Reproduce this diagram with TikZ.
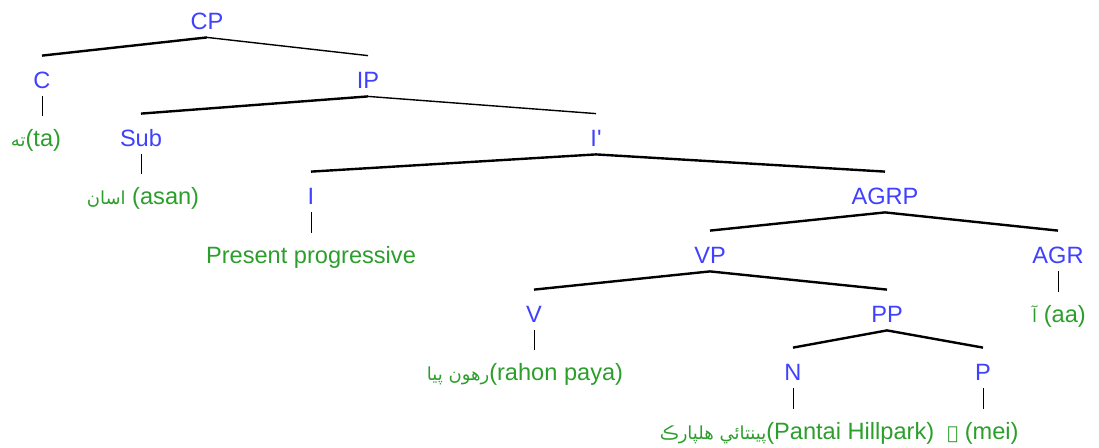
\documentclass[tikz,border=0pt]{standalone}
\usepackage{fontspec}
\setmainfont{Liberation Sans}
\newfontfamily\arabicfont[Script=Arabic]{DejaVu Sans}
\TeXXeTstate=1
\definecolor{tnBlue}{RGB}{64,64,255}
\definecolor{tnGreen}{RGB}{44,158,44}
\newcommand{\sindhi}[1]{{\arabicfont\fontsize{9}{9}\selectfont\beginR #1\endR}}

\begin{document}
\begin{tikzpicture}[
  x=0.5pt, y=-0.5pt,
  font=\fontsize{11.8}{12}\selectfont,
  cat/.style={text=tnBlue, anchor=base, inner sep=0pt, text height=16pt, text depth=4pt},
  word/.style={text=tnGreen, anchor=base, inner sep=0pt, text height=15pt, text depth=4pt},
  branch/.style={line width=1.2pt},
  thinbranch/.style={line width=0.7pt},
  stem/.style={line width=0.5pt},
]
\useasboundingbox (0,0) rectangle (1099,447);

% --- Category labels, row by row --------------------------------------------
\node[cat] (cp)   at (207,29)  {CP};
\node[cat] (c)    at (42,88)   {C};
\node[cat] (ip)   at (368,88)  {IP};
\node[cat] (sub)  at (141,146) {Sub};
\node[cat] (ibar) at (596,146) {I\textquotesingle};
\node[cat] (i)    at (311,204) {I};
\node[cat] (agrp) at (885,204) {AGRP};
\node[cat] (vp)   at (710,263) {VP};
\node[cat] (agr)  at (1058,263) {AGR};
\node[cat] (v)    at (534,322) {V};
\node[cat] (pp)   at (887,322) {PP};
\node[cat] (n)    at (793,380) {N};
\node[cat] (p)    at (983,380) {P};

% --- Words ------------------------------------------------------------------
\node[word] (ta)    at (36,146)   {\sindhi{ته}(ta)};
\node[word] (asan)  at (143,204)  {\sindhi{اسان} (asan)};
\node[word] (pres)  at (311,263)  {Present progressive};
\node[word] (aa)    at (1059,322) {\sindhi{آ} (aa)};
\node[word] (rahon) at (525,380)  {\sindhi{رهون پيا}(rahon paya)};
\node[word] (hill)  at (797,439)  {\sindhi{پينتائي هلپارڪ}(Pantai Hillpark)};
\node[word] (mei)   at (983,439)  {\sindhi{۾} (mei)};

% --- Branches ---------------------------------------------------------------
\foreach \a/\b in {cp/c, ip/sub, ibar/i, ibar/agrp, agrp/vp, agrp/agr, vp/v, vp/pp, pp/n, pp/p}
  \draw[branch] (\a.south) -- (\b.north);
\foreach \a/\b in {cp/ip, ip/ibar}
  \draw[thinbranch] (\a.south) -- (\b.north);
\foreach \a/\b in {c/ta, sub/asan, i/pres, agr/aa, v/rahon, n/hill, p/mei}
  \draw[stem] (\a.south) -- (\a.south |- \b.north);

\end{tikzpicture}
\end{document}
